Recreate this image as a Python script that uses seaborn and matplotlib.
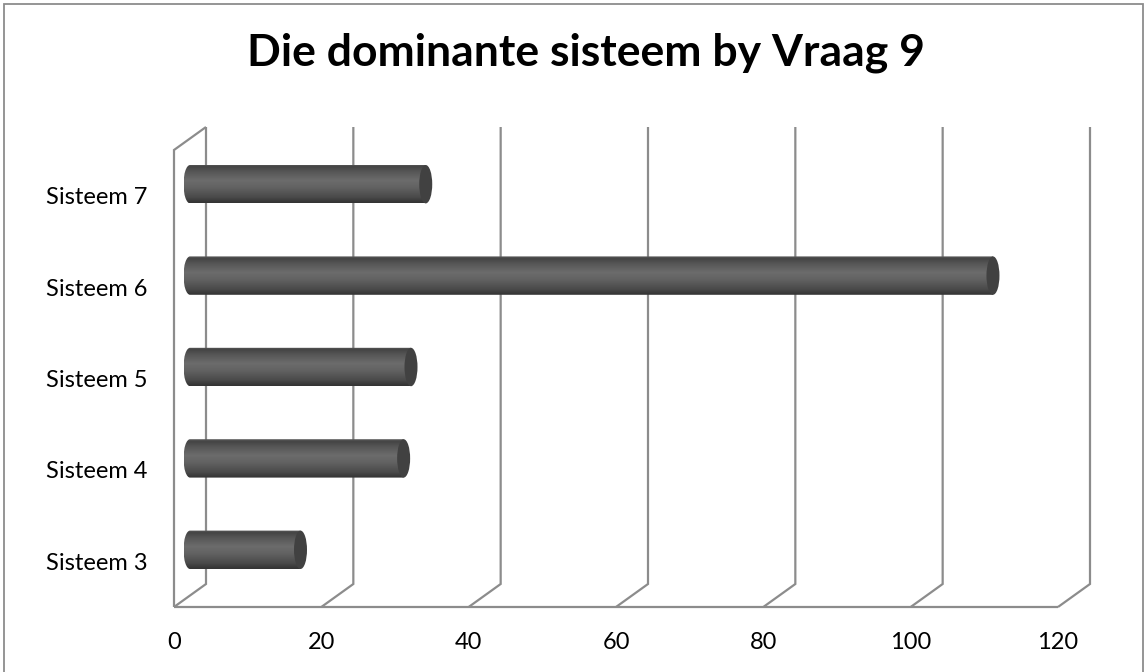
import numpy as np
import pandas as pd
import matplotlib
matplotlib.use("Agg")
import matplotlib.pyplot as plt
import seaborn as sns
from matplotlib.path import Path
from matplotlib.transforms import Affine2D, ScaledTranslation
from matplotlib.colors import LinearSegmentedColormap
from matplotlib.patches import Ellipse, Rectangle

categories = ["Sisteem 7", "Sisteem 6", "Sisteem 5", "Sisteem 4", "Sisteem 3"]
values = [32, 109, 30, 29, 15]
xticks = [0, 20, 40, 60, 80, 100, 120]
title = "Die dominante sisteem by Vraag 9"

sns.set_style("white")
plt.rcParams["font.family"] = ["Lato", "DejaVu Sans"]

W, H, DPI = 1147, 672, 100
fig = plt.figure(figsize=(W / DPI, H / DPI), dpi=DPI)
# front plane of the 3D box (pixels)
L, R, T, B = 174, 1058, 150, 607
ax = fig.add_axes([L / W, (H - B) / H, (R - L) / W, (B - T) / H])

df = pd.DataFrame({"cat": categories, "val": values})
sns.barplot(data=df, x="val", y="cat", orient="h", color="#555555",
            width=0.42, ax=ax, zorder=3)
ax.set_xlim(0, 120)
ax.set_ylim(4.5, -0.5)
for s in ax.spines.values():
    s.set_visible(False)
ax.set_xlabel("")
ax.set_ylabel("")
ax.set_xticks(xticks)
ax.set_xticklabels([str(t) for t in xticks])
ax.tick_params(axis="both", length=0, labelsize=17, colors="#000000")
ax.tick_params(axis="y", pad=19)
ax.tick_params(axis="x", pad=18)

# depth offsets
px_per_x = (R - L) / 120.0
px_per_y = (B - T) / 5.0
depth_px = (32, 23)
dx = depth_px[0] / px_per_x
dy = depth_px[1] / px_per_y

grid_kw = dict(color="#8c8c8c", lw=1.6, clip_on=False, zorder=1,
               solid_capstyle="butt", solid_joinstyle="miter")
ybot, ytop = 4.5, -0.5
for t in xticks:
    ax.plot([t, t + dx, t + dx], [ybot, ybot - dy, ytop - dy], **grid_kw)
ax.plot([0, 120], [ybot, ybot], **grid_kw)
ax.plot([0, 0, dx], [ybot, ytop, ytop - dy], **grid_kw)

# cylinders at half depth
half = ScaledTranslation(depth_px[0] / 2 / DPI, depth_px[1] / 2 / DPI,
                         fig.dpi_scale_trans)
tr = ax.transData + half
rx = 6.5 / px_per_x
cmap = LinearSegmentedColormap.from_list(
    "cyl",
    [(0.0, "#5c5c5c"), (0.06, "#444444"), (0.2, "#575757"),
     (0.42, "#6c6c6c"), (0.6, "#626262"), (0.85, "#4a4a4a"),
     (0.95, "#3a3a3a"), (1.0, "#333333")])
grad = np.linspace(0, 1, 200).reshape(-1, 1)
for p in list(ax.patches):
    x0, y0, w, h = p.get_x(), p.get_y(), p.get_width(), p.get_height()
    p.set_visible(False)
    yc = y0 + h / 2
    arc = Path.arc(90, 270)
    arc = arc.transformed(Affine2D().scale(rx, h / 2).translate(x0, yc))
    verts = list(arc.vertices) + [(x0 + w, yc - h / 2), (x0 + w, yc + h / 2), (x0, yc + h / 2)]
    codes = list(arc.codes) + [Path.LINETO, Path.LINETO, Path.CLOSEPOLY]
    body = Path(verts, codes)
    im = ax.imshow(grad, cmap=cmap, aspect="auto", interpolation="bilinear",
                   extent=(x0 - rx, x0 + w + rx, y0 + h, y0), zorder=3)
    im.set_transform(tr)
    im.set_clip_path(body, tr)
    cap = Ellipse((x0 + w, yc), 2 * rx, h, facecolor="#414141",
                  edgecolor="none", zorder=4, transform=tr)
    ax.add_patch(cap)

ax.set_xlim(0, 120)
ax.set_ylim(4.5, -0.5)

fig.text(586 / W, 1 - 53 / H, title, ha="center", va="center",
         fontsize=32, fontweight="bold", color="#000000")
fig.patches.append(Rectangle((4 / W, -0.1), (W - 8) / W, 1.1 - 4 / H,
                             transform=fig.transFigure, fill=False,
                             edgecolor="#8c8c8c", lw=1.3))

fig.savefig("out.png", dpi=DPI)
